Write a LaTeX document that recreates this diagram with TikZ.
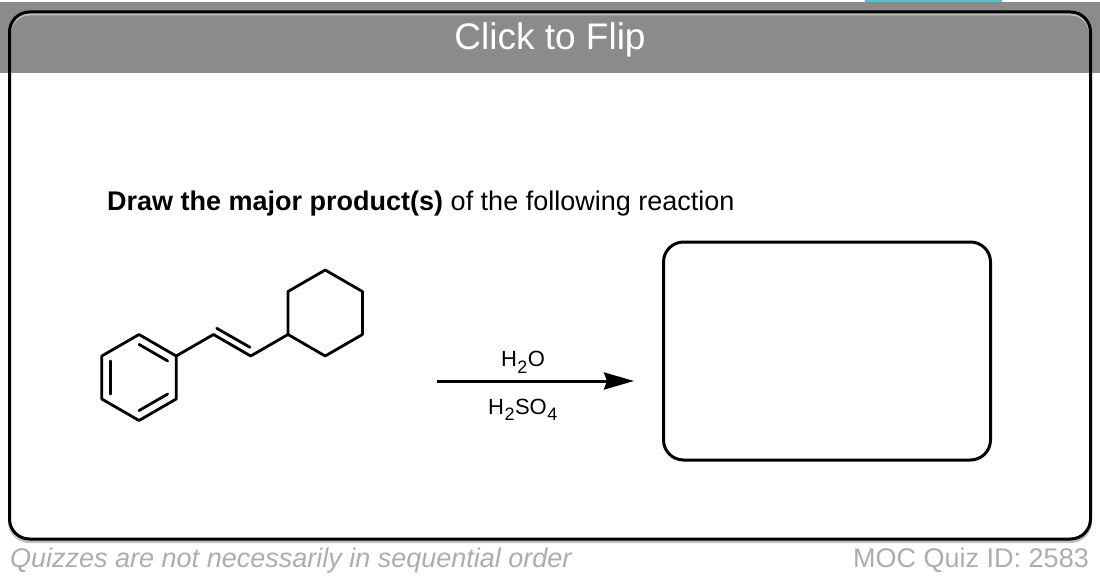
\documentclass[tikz,border=0pt]{standalone}
\usepackage{fontspec}
\setmainfont{Liberation Sans}
\usetikzlibrary{arrows.meta,calc}
\definecolor{bandgrey}{HTML}{8B8B8B}
\definecolor{footgrey}{HTML}{ADADAD}
\definecolor{tealbar}{HTML}{45C9D3}
\newcommand{\fsz}[1]{\fontsize{#1}{#1}\selectfont}
\newcommand{\chsub}[1]{\kern0.5pt\raisebox{-6.5pt}{\fontsize{18}{18}\selectfont #1}\kern0.5pt}
\begin{document}
\begin{tikzpicture}[x=1pt,y=-1pt,
  bond/.style={line width=2.8pt,line join=round,line cap=round},
  cardbox/.style={draw=black,line width=3pt,rounded corners=20pt},
  answerbox/.style={draw=black,line width=3pt,rounded corners=20pt,minimum width=327pt,minimum height=218pt,inner sep=0pt},
  rxarrow/.style={line width=3pt,-{Stealth[length=30pt,width=17pt,inset=3pt]}},
  reagent/.style={font=\fsz{22},inner sep=0pt,anchor=base},
  foot/.style={text=footgrey,inner sep=0pt,anchor=base}]
\useasboundingbox (0,0) rectangle (1100,580);
\fill[white] (0,0) rectangle (1100,580);
% top band
\fill[bandgrey] (0,2) rectangle (1100,73);
\fill[tealbar] (865,0) rectangle (1002,2.2);
% card shadow + card
\draw[black!25,line width=3pt,rounded corners=20pt] (9.5,14) rectangle (1090.5,541.5);
\draw[cardbox] (9.5,12) rectangle (1090.5,539);
\node[text=white,font=\fsz{37},inner sep=0pt,anchor=base] (flip) at (550,50) {Click to Flip};
% question
\node[font=\fsz{27},inner sep=0pt,anchor=base west] (question) at (107,210.5) {\textbf{Draw the major product(s)} of the following reaction};
% benzene
\coordinate (bc) at (139,377.5);
\coordinate (b1) at (139,334.5);
\coordinate (b2) at (176.2,356);
\coordinate (b3) at (176.2,399);
\coordinate (b4) at (139,420.5);
\coordinate (b5) at (101.8,399);
\coordinate (b6) at (101.8,356);
\draw[bond] (b1) -- (b2) -- (b3) -- (b4) -- (b5) -- (b6) -- cycle;
\draw[bond] ($(b1)!0.23!(bc)$) -- ($(b2)!0.23!(bc)$);
\draw[bond] ($(b3)!0.23!(bc)$) -- ($(b4)!0.23!(bc)$);
\draw[bond] ($(b5)!0.23!(bc)$) -- ($(b6)!0.23!(bc)$);
% alkene chain
\coordinate (c2) at (213.5,334.5);
\coordinate (c3) at (250.7,356);
\coordinate (d1) at (216.7,328.3);
\coordinate (d2) at (250,347.3);
\draw[bond] (b2) -- (c2) -- (c3);
\draw[bond] (d1) -- (d2);
% cyclohexane
\coordinate (h1) at (288,334.5);
\coordinate (h2) at (288,291.5);
\coordinate (h3) at (325.2,270);
\coordinate (h4) at (362.4,291.5);
\coordinate (h5) at (362.4,334.5);
\coordinate (h6) at (325.2,356);
\draw[bond] (c3) -- (h1);
\draw[bond] (h1) -- (h2) -- (h3) -- (h4) -- (h5) -- (h6) -- cycle;
% reaction arrow
\coordinate (arrS) at (437,381);
\coordinate (arrE) at (634,381);
\draw[rxarrow] (arrS) -- (arrE);
\node[reagent] (water) at (523,366.7) {H\chsub{2}O};
\node[reagent] (acid) at (523,414) {H\chsub{2}SO\chsub{4}};
% answer box
\node[answerbox] (product) at (827,351) {};
% footer
\node[foot,font=\itshape\fsz{27},anchor=base west] (note) at (10,567.5) {Quizzes are not necessarily in sequential order};
\node[foot,font=\fsz{27},anchor=base east] (quizid) at (1089,567) {MOC Quiz ID: 2583};
\end{tikzpicture}
\end{document}
